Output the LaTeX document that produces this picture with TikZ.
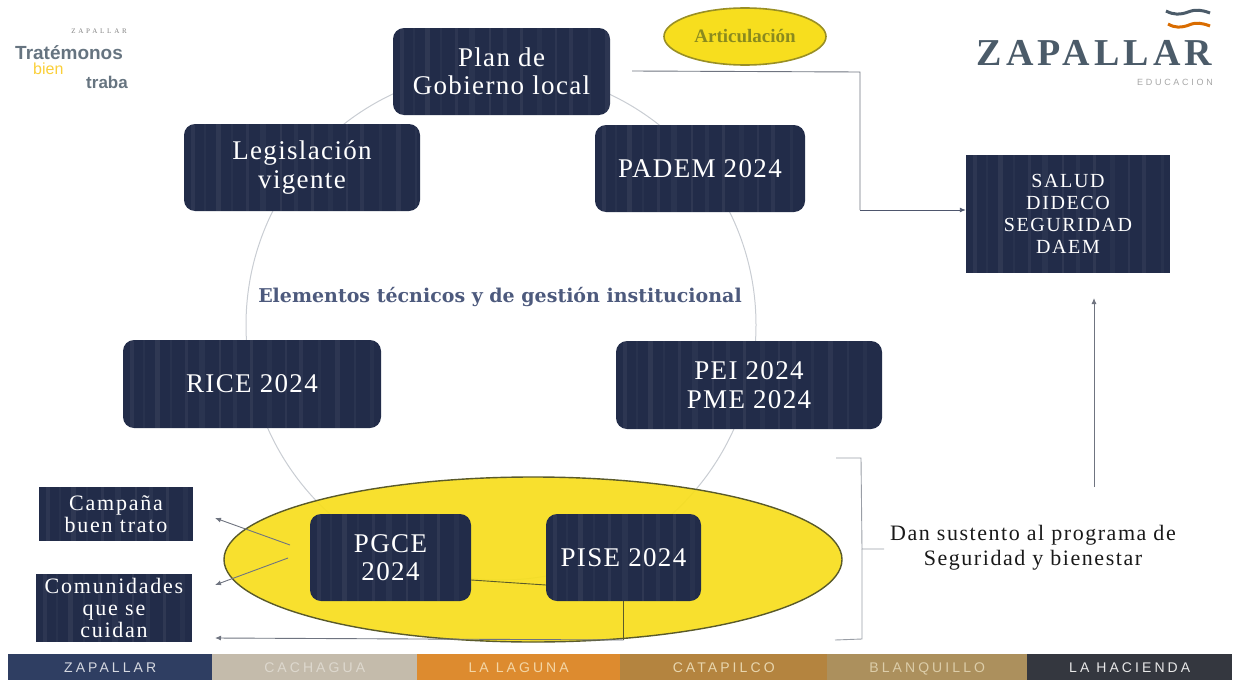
\documentclass[tikz,border=0pt]{standalone}
\usepackage{fontspec}
\setmainfont{Liberation Serif}
\newfontfamily\logosans{Liberation Sans}
\newfontfamily\slab{DejaVu Serif}
\usetikzlibrary{shapes.geometric,arrows.meta,calc}
\definecolor{navy}{HTML}{222C49}
\definecolor{ringc}{HTML}{C9CDD3}
\definecolor{yel}{HTML}{F7DE1E}
\definecolor{edgeol}{HTML}{5A5A2A}
\definecolor{slate}{HTML}{4B5B69}
\definecolor{arrowc}{HTML}{6F7480}
\definecolor{titlec}{HTML}{4D5A7D}
\definecolor{articc}{HTML}{8A8A1E}
\newcommand{\spaced}[2]{\addfontfeatures{LetterSpace=#1}#2}
\newcommand{\stripes}{%
  \foreach \sx/\sw/\so in {9/4/.05,21/2/.03,34/5/.06,48/2/.03,63/3/.05,79/6/.04,97/2/.06,112/4/.04,128/3/.06,146/5/.03,163/2/.05,178/4/.05,196/3/.03,214/5/.05,232/2/.04,249/4/.03}{
    \draw[white,opacity=\so,line width=\sw pt]
      ($(path picture bounding box.north west)+(\sx,0)$) -- ($(path picture bounding box.south west)+(\sx,0)$);
  }}
\tikzset{
  x=1pt,y=-1pt,
  navybox/.style={draw=none,fill=navy,rounded corners=11pt,inner sep=0pt,text=white,align=center,font=\fontsize{27}{28.5}\selectfont\addfontfeatures{LetterSpace=5},path picture={\stripes}},
  sharpbox/.style={draw=none,fill=navy,inner sep=0pt,text=white,align=center,path picture={\stripes}},
  link/.style={draw=arrowc,line width=0.9pt},
  linkarrow/.style={link,-{Latex[length=6pt,width=5pt]}},
  barcell/.style={draw=none,inner sep=0pt,minimum height=26pt,text height=10pt,text depth=0pt,font=\logosans\fontsize{14}{14}\selectfont},
}
\newcommand{\sized}[3]{\node[navybox,minimum width=#1pt,minimum height=#2pt] #3}
\begin{document}
\begin{tikzpicture}
\useasboundingbox (0,0) rectangle (1235,680);
% ring
\node[circle,draw=ringc,line width=1pt,minimum size=510pt,inner sep=0pt] (ring) at (501,325) {};
% yellow ellipse
\node[ellipse,draw=edgeol,line width=1.4pt,fill=yel,fill opacity=.93,minimum width=618pt,minimum height=165pt,inner sep=0pt] (yellow) at (533,559.5) {};
% label over the ring
\node[inner sep=0pt,text=titlec,font=\slab\fontsize{19}{20}\selectfont\bfseries] (title) at (500,297) {Elementos técnicos y de gestión institucional};
% main boxes
\sized{217}{87}{(plan) at (501.5,71.5) {Plan de\\Gobierno local}};
\sized{236}{87}{(legis) at (302,167.5) {Legislación\\vigente}};
\sized{210}{87}{(padem) at (700,168.5) {PADEM 2024}};
\sized{258}{88}{(rice) at (252,384) {RICE 2024}};
\sized{266}{88}{(pei) at (749,385) {PEI 2024\\PME 2024}};
\sized{161}{87}{(pgce) at (390.5,557.5) {PGCE\\2024}};
\sized{155}{87}{(pise) at (623.5,557.5) {PISE 2024}};
\node[sharpbox,minimum width=154pt,minimum height=54pt,font=\fontsize{22}{22}\selectfont\addfontfeatures{LetterSpace=8}] (campana) at (116,514) {Campaña\\buen trato};
\node[sharpbox,minimum width=156pt,minimum height=68pt,font=\fontsize{22}{22}\selectfont\addfontfeatures{LetterSpace=8}] (comun) at (114,608) {Comunidades\\que se\\cuidan};
\node[sharpbox,minimum width=204pt,minimum height=118pt,font=\fontsize{20}{22}\selectfont\addfontfeatures{LetterSpace=8}] (salud) at (1068,214) {SALUD\\DIDECO\\SEGURIDAD\\DAEM};
% articulacion
\node[ellipse,draw=edgeol!60!yel,line width=1.6pt,fill=yel,minimum width=162pt,minimum height=57pt,inner sep=0pt,text=articc,font=\fontsize{19}{20}\selectfont\bfseries] (artic) at (745,36.5) {Articulación};
% connector coordinates
\coordinate (planout) at ($(plan.east)+(22,-0.5)$);
\coordinate (planbend) at (860,72);
\coordinate (saludbend) at (860,210);
\coordinate (saludin) at (salud.west |- saludbend);
\coordinate (upfrom) at (1094,487);
\coordinate (upto) at (1094,298);
\coordinate (a1from) at (290,545);
\coordinate (a1to) at (215,518);
\coordinate (a2from) at (288,558);
\coordinate (a2to) at (215,585);
\coordinate (lowbend) at (pise.south |- 0,640);
\coordinate (lowto) at (215,638);
\coordinate (pgceout) at (pgce.east |- 0,580);
\coordinate (piseout) at (pise.west |- 0,585);
\draw[link] (planout) -- (planbend) -- (saludbend);
\draw[linkarrow,draw=navy!80!white] (saludbend) -- (saludin);
\draw[linkarrow] (upfrom) -- (upto);
\draw[linkarrow] (a1from) -- (a1to);
\draw[linkarrow] (a2from) -- (a2to);
\draw[edgeol,line width=0.9pt] (pgceout) -- (piseout);
\draw[edgeol,line width=0.9pt] (pise.south) -- (lowbend);
\draw[linkarrow] (lowbend) -- (lowto);
% brace
\coordinate (bracetop) at (836,458);
\coordinate (bracebot) at (835,640);
\coordinate (bracetick) at (884,549);
\draw[link,draw=arrowc!70!white] (bracetop) -- (861,458) -- (862,549) -- (bracetick);
\draw[link,draw=arrowc!70!white] (862,549) -- (862,639) -- (bracebot);
\node[align=center,text=black!90,font=\fontsize{22}{25}\selectfont\addfontfeatures{LetterSpace=7}] (sust) at (1033,548) {Dan sustento al programa de\\Seguridad y bienestar};
% bottom bar
\foreach \nm/\xa/\cw/\col/\tcol/\lab in {b1/8/204/2F3E62/D5D8E0/ZAPALLAR,b2/212/205/C4BBAB/DDD8CE/CACHAGUA,b3/417/203/DD8B2F/F3D6A6/LA LAGUNA,b4/620/207/B4843F/E8D6AE/CATAPILCO,b5/827/200/AC905D/DCCDA9/BLANQUILLO,b6/1027/205/34373F/E8E8E8/LA HACIENDA}{
  \definecolor{cellc}{HTML}{\col}
  \definecolor{celltext}{HTML}{\tcol}
  \node[barcell,fill=cellc,text=celltext,minimum width=\cw pt,anchor=north west] (\nm) at (\xa,654) {\spaced{22}{\lab}};
}
% right logo
\node[text=slate,font=\fontsize{38}{38}\selectfont\bfseries,inner sep=0pt] (zlogo) at (1094.5,53) {\spaced{11}{ZAPALLAR}};
\node[text=black!35,font=\logosans\fontsize{9}{9}\selectfont,inner sep=0pt,anchor=east] (edu) at (1213,82) {\spaced{30}{EDUCACION}};
\draw[slate,line width=3pt] (1166,11) .. controls (1174,15) and (1180,15) .. (1188,12) .. controls (1196,9) and (1202,10) .. (1210,13);
\draw[orange!85!black,line width=3pt] (1168,24) .. controls (1175,28) and (1181,28) .. (1189,25) .. controls (1196,22) and (1202,23) .. (1210,26);
% left logo
\node[text=black!50,font=\fontsize{7}{7}\selectfont,inner sep=0pt,anchor=east] (zsmall) at (127,31) {\spaced{40}{ZAPALLAR}};
\node[text=slate!85!white,font=\logosans\fontsize{19}{19}\selectfont\bfseries,inner sep=0pt,anchor=west] (trat) at (15,53) {Tratémonos};
\node[text=yel!75!orange!85!white,font=\logosans\fontsize{16}{16}\selectfont,inner sep=0pt,anchor=west] (bien) at (33,69) {bien};
\node[text=slate!85!white,font=\logosans\fontsize{17}{17}\selectfont\bfseries,inner sep=0pt,anchor=east] (traba) at (128,82) {traba};
\end{tikzpicture}
\end{document}
